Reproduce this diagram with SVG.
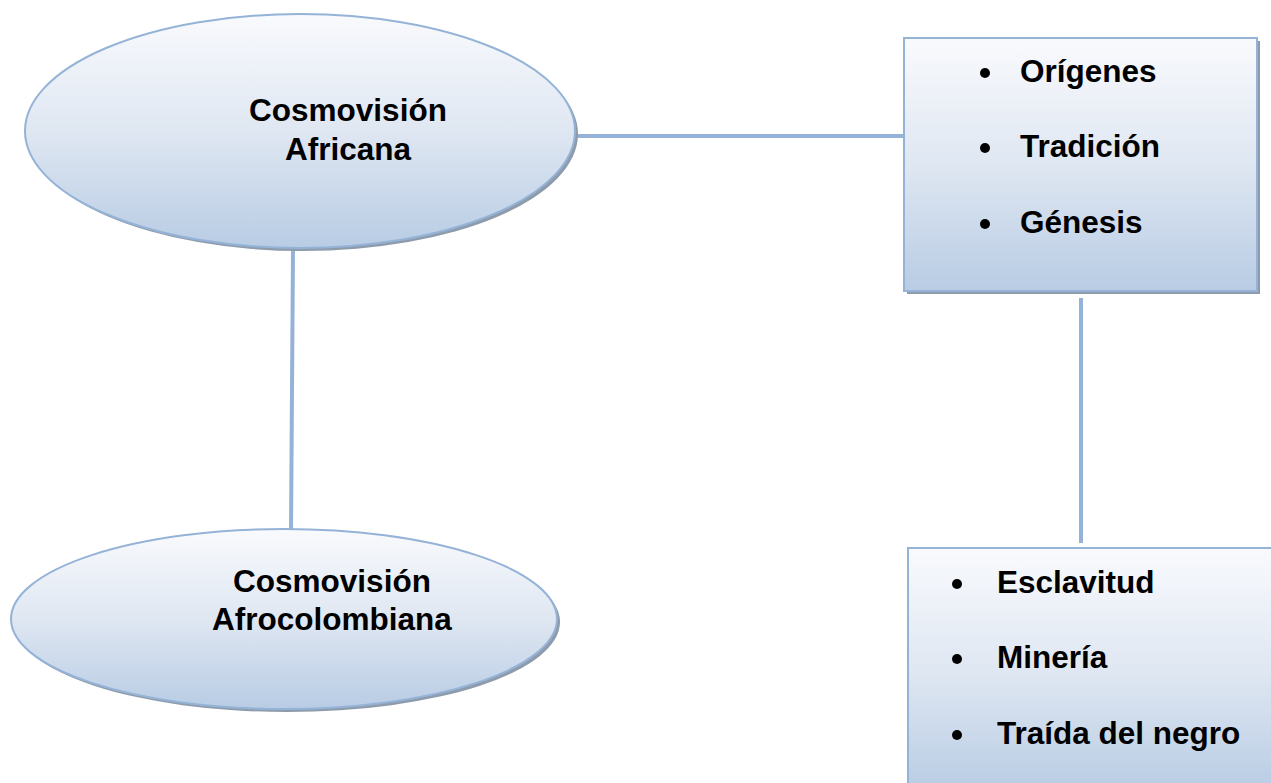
<svg xmlns="http://www.w3.org/2000/svg" width="1271" height="783" viewBox="0 0 1271 783">
<defs>
<linearGradient id="g" x1="0" y1="0" x2="0" y2="1">
<stop offset="0" stop-color="#f9fafd"/>
<stop offset="0.5" stop-color="#dfe7f2"/>
<stop offset="1" stop-color="#b8cce4"/>
</linearGradient>
<style>
.shape{fill:url(#g);stroke:#95b3d7;stroke-width:2}
.shadow{fill:#8e9bab}
.conn{stroke:#95b3d7;stroke-width:4;fill:none}
text{font-family:"Liberation Sans",Arial,sans-serif;font-weight:bold;font-size:31.5px;fill:#000}
.c{text-anchor:middle}
</style>
</defs>
<rect width="1271" height="783" fill="#fff"/>
<g id="connectors">
<line class="conn" x1="576" y1="136" x2="906" y2="136"/>
<line class="conn" x1="1081" y1="298" x2="1081" y2="543"/>
<line class="conn" x1="293" y1="250" x2="291" y2="530"/>
</g>
<g id="n1">
<ellipse class="shadow" cx="303" cy="134" rx="275" ry="117"/>
<ellipse class="shape" cx="300" cy="131" rx="275" ry="117"/>
<text class="c" x="348" y="121">Cosmovisión</text>
<text class="c" x="348" y="160">Africana</text>
</g>
<g id="n2">
<rect class="shadow" x="907" y="41" width="353" height="253"/>
<rect class="shape" x="904" y="38" width="353" height="253"/>
<circle cx="985" cy="73" r="5"/>
<text x="1020" y="82">Orígenes</text>
<circle cx="985" cy="148" r="5"/>
<text x="1020" y="157">Tradición</text>
<circle cx="985" cy="224" r="5"/>
<text x="1020" y="233">Génesis</text>
</g>
<g id="n3">
<ellipse class="shadow" cx="287" cy="622" rx="273" ry="90"/>
<ellipse class="shape" cx="284" cy="619" rx="273" ry="90"/>
<text class="c" x="332" y="592">Cosmovisión</text>
<text class="c" x="332" y="630">Afrocolombiana</text>
</g>
<g id="n4">
<rect class="shape" x="908" y="548" width="370" height="245"/>
<circle cx="957" cy="584" r="5"/>
<text x="997" y="593">Esclavitud</text>
<circle cx="957" cy="659" r="5"/>
<text x="997" y="668">Minería</text>
<circle cx="957" cy="735" r="5"/>
<text x="997" y="744">Traída del negro</text>
</g>
</svg>
